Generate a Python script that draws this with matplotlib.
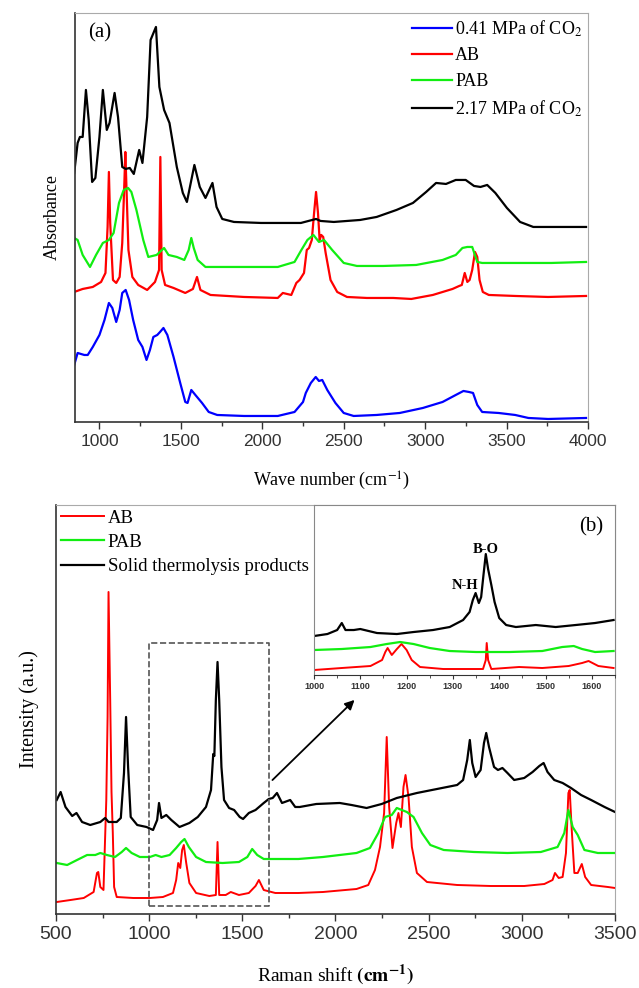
import matplotlib
matplotlib.use("Agg")
import matplotlib.pyplot as plt
from matplotlib.ticker import MultipleLocator

plt.rcParams['font.family'] = ['Liberation Serif', 'DejaVu Serif']
plt.rcParams['mathtext.fontset'] = 'stix'

# ---- (a) FTIR, absorbance (stacked, arbitrary units) ----
ir_low_x = [845, 866, 907, 928, 959, 1000, 1031, 1058, 1079, 1103, 1124, 1140, 1161, 1182, 1207,
            1238, 1264, 1289, 1310, 1331, 1355, 1372, 1393, 1417, 1455, 1496, 1527, 1541, 1564,
            1589, 1630, 1671, 1723, 1888, 2095, 2198, 2250, 2267, 2298, 2328, 2348, 2368, 2399,
            2449, 2500, 2561, 2702, 2844, 2986, 3107, 3188, 3235, 3269, 3294, 3320, 3350, 3451,
            3553, 3634, 3755, 3988]
ir_low_y = [57, 69, 67, 67, 75, 87, 102, 119, 114, 100, 112, 129, 132, 122, 102,
            82, 75, 62, 72, 85, 87, 90, 94, 87, 65, 39, 20, 19, 32,
            27, 19, 10, 7, 6, 6, 10, 20, 29, 39, 45, 41, 42, 32,
            19, 9, 6, 7, 9, 14, 20, 27, 31, 30, 29, 17, 10, 9,
            7, 4, 3, 4]

ir_ab_x = [845, 897, 959, 1010, 1037, 1050, 1058, 1066, 1083, 1103, 1124, 1140, 1153, 1159, 1165,
           1178, 1202, 1238, 1293, 1341, 1366, 1374, 1382, 1403, 1455, 1527, 1574, 1599, 1620,
           1682, 1888, 2095, 2126, 2178, 2209, 2229, 2256, 2273, 2287, 2304, 2318, 2330, 2342,
           2352, 2362, 2374, 2389, 2419, 2460, 2520, 2642, 2804, 2915, 3047, 3168, 3209, 3225,
           3243, 3259, 3273, 3289, 3306, 3320, 3334, 3354, 3391, 3553, 3755, 3988]
ir_ab_y = [130, 133, 135, 140, 149, 195, 250, 199, 142, 139, 145, 179, 239, 270, 239,
           172, 145, 137, 132, 140, 152, 265, 152, 137, 134, 129, 133, 145, 132,
           127, 125, 124, 129, 127, 139, 142, 149, 172, 174, 182, 209, 230, 209,
           182, 187, 185, 169, 142, 130, 125, 124, 124, 123, 127, 133, 136, 137,
           149, 140, 142, 152, 170, 165, 142, 130, 127, 126, 125, 126]

ir_pab_x = [845, 866, 897, 942, 979, 1021, 1058, 1087, 1120, 1149, 1176, 1196, 1227, 1269, 1300,
            1351, 1397, 1424, 1475, 1521, 1548, 1564, 1579, 1603, 1651, 1785, 2095, 2198, 2240,
            2277, 2314, 2348, 2379, 2429, 2500, 2581, 2743, 2945, 3107, 3188, 3229, 3259, 3289,
            3320, 3350, 3553, 3775, 3988]
ir_pab_y = [184, 182, 167, 155, 167, 179, 182, 189, 219, 232, 234, 230, 212, 182, 165,
            167, 174, 167, 165, 162, 172, 184, 174, 162, 155, 155, 155, 160, 172,
            182, 187, 180, 182, 172, 159, 156, 156, 157, 162, 167, 174, 175, 175,
            160, 159, 159, 159, 160]

ir_high_x = [845, 866, 880, 897, 917, 934, 955, 975, 1000, 1021, 1045, 1062, 1093, 1114, 1140,
             1161, 1186, 1211, 1244, 1264, 1293, 1314, 1347, 1368, 1397, 1430, 1475, 1512, 1537,
             1583, 1616, 1651, 1694, 1719, 1754, 1826, 1992, 2237, 2330, 2358, 2439, 2601, 2702,
             2824, 2925, 3006, 3067, 3128, 3188, 3249, 3300, 3340, 3381, 3431, 3502, 3583, 3664,
             3755, 3856, 3988]
ir_high_y = [249, 279, 285, 285, 332, 302, 240, 244, 285, 332, 292, 299, 329, 305, 255,
             253, 254, 248, 272, 259, 305, 382, 395, 335, 312, 299, 255, 229, 220,
             257, 235, 224, 239, 215, 203, 200, 199, 199, 203, 201, 200, 202, 205,
             212, 219, 230, 239, 238, 242, 242, 236, 235, 237, 229, 214, 200, 195,
             195, 195, 195]

# ---- (b) Raman, intensity (stacked, arbitrary units) ----
ra_ab_x = [504, 578, 649, 702, 720, 727, 738, 755, 770, 777, 782, 791, 798, 805, 812,
           826, 915, 1004, 1074, 1128, 1145, 1156, 1167, 1177, 1186, 1199, 1216, 1252, 1323,
           1358, 1367, 1376, 1411, 1438, 1482, 1535, 1571, 1589, 1615, 1677, 1801, 1933, 2113,
           2176, 2212, 2239, 2261, 2275, 2288, 2306, 2326, 2338, 2351, 2365, 2376, 2392, 2410,
           2437, 2491, 2653, 2833, 3013, 3121, 3165, 3178, 3198, 3219, 3237, 3250, 3257, 3268,
           3282, 3300, 3322, 3340, 3372, 3462, 3500]
ra_ab_y = [12, 14, 16, 22, 41, 42, 27, 24, 114, 197, 322, 214, 122, 81, 27,
           17, 16, 16, 17, 21, 34, 51, 46, 64, 69, 51, 31, 21, 18,
           19, 72, 19, 19, 22, 19, 21, 28, 34, 24, 21, 21, 22, 25,
           29, 44, 67, 101, 177, 107, 66, 91, 101, 87, 127, 139, 117, 67,
           41, 32, 29, 28, 28, 30, 34, 41, 36, 37, 61, 121, 124, 84,
           41, 41, 50, 37, 29, 27, 26]

ra_pab_x = [504, 560, 613, 667, 711, 738, 773, 817, 853, 876, 906, 950, 1004, 1035, 1066,
            1110, 1145, 1172, 1190, 1213, 1252, 1305, 1394, 1482, 1527, 1553, 1580, 1615, 1713,
            1801, 1933, 2113, 2185, 2230, 2266, 2302, 2329, 2356, 2383, 2419, 2464, 2509, 2581,
            2743, 2923, 3102, 3192, 3228, 3250, 3273, 3300, 3336, 3408, 3500]
ra_pab_y = [51, 49, 54, 59, 59, 61, 59, 57, 62, 66, 61, 57, 57, 59, 57,
            59, 66, 72, 75, 67, 57, 52, 51, 52, 57, 65, 59, 55, 55,
            55, 57, 61, 66, 81, 97, 99, 106, 104, 102, 97, 81, 69, 64,
            62, 61, 62, 67, 81, 104, 87, 79, 64, 61, 61]

ra_solid_x = [504, 525, 551, 587, 610, 640, 684, 738, 764, 782, 826, 848, 865, 876, 887,
              901, 936, 986, 1021, 1043, 1053, 1066, 1092, 1119, 1163, 1216, 1261, 1305, 1332,
              1344, 1350, 1358, 1367, 1376, 1388, 1402, 1429, 1456, 1486, 1504, 1535, 1571, 1615,
              1642, 1663, 1686, 1713, 1757, 1784, 1808, 1897, 2023, 2086, 2167, 2248, 2329, 2437,
              2545, 2653, 2685, 2707, 2721, 2734, 2752, 2779, 2797, 2809, 2824, 2851, 2872, 2896,
              2923, 2959, 3013, 3058, 3094, 3117, 3138, 3174, 3219, 3264, 3318, 3372, 3444, 3500]
ra_solid_y = [114, 122, 107, 98, 101, 92, 89, 92, 96, 92, 92, 96, 141, 197, 147,
              97, 89, 87, 84, 94, 111, 96, 99, 94, 87, 91, 97, 107, 124,
              160, 158, 214, 252, 214, 147, 114, 106, 104, 97, 95, 101, 104, 111,
              115, 116, 121, 111, 114, 107, 107, 110, 111, 109, 106, 110, 116, 121,
              125, 129, 134, 154, 174, 151, 137, 144, 171, 181, 167, 147, 144, 146,
              141, 134, 136, 142, 148, 151, 142, 134, 131, 126, 119, 114, 107, 102]

# zoomed 1000-1650 cm-1 region
zoom_solid_x = [1000, 1029, 1050, 1060, 1068, 1086, 1100, 1136, 1179, 1215, 1257, 1293, 1322, 1336,
                1343, 1349, 1356, 1361, 1366, 1371, 1376, 1383, 1390, 1400, 1415, 1436, 1479, 1522,
                1565, 1607, 1647]
zoom_solid_y = [39, 41, 45, 52, 45, 45, 46, 42, 41, 43, 45, 48, 55, 63,
                75, 82, 72, 78, 100, 121, 106, 90, 73, 57, 50, 48, 50, 48,
                50, 52, 55]
zoom_pab_x = [1000, 1060, 1122, 1157, 1186, 1215, 1250, 1293, 1350, 1422, 1493, 1536, 1561, 1579,
              1607, 1647]
zoom_pab_y = [25, 26, 28, 31, 33, 31, 27, 24, 23, 23, 24, 28, 29, 26, 23, 24]
zoom_ab_x = [1000, 1060, 1122, 1147, 1154, 1159, 1168, 1179, 1189, 1200, 1211, 1229, 1279, 1365,
             1371, 1373, 1376, 1383, 1443, 1493, 1550, 1579, 1593, 1614, 1647]
zoom_ab_y = [5, 7, 9, 15, 23, 27, 20, 26, 31, 25, 15, 8, 6, 6,
             15, 32, 15, 6, 8, 7, 9, 12, 14, 9, 7]

BLUE, RED, GREEN = '#0000ff', '#ff0000', '#11ee11'
TICK_FONT = 'Liberation Sans'


def style_axes(ax, fontsize, major, minor):
    ax.xaxis.set_major_locator(MultipleLocator(major))
    ax.xaxis.set_minor_locator(MultipleLocator(minor))
    ax.set_yticks([])
    ax.tick_params(axis='x', which='major', direction='out', length=5, width=1, colors='#333333')
    ax.tick_params(axis='x', which='minor', direction='out', length=3, width=1, colors='#333333')
    for lab in ax.get_xticklabels():
        lab.set_fontfamily(TICK_FONT)
        lab.set_fontsize(fontsize)
    for side in ('top', 'right'):
        ax.spines[side].set_color('#aaaaaa')
    for side in ('left', 'bottom'):
        ax.spines[side].set_color('#333333')
        ax.spines[side].set_linewidth(1.2)


fig = plt.figure(figsize=(6.39, 9.88), dpi=100)

# (a) infrared spectra
ax1 = fig.add_axes([0.1174, 0.5729, 0.8028, 0.414])
ax1.plot(ir_low_x, ir_low_y, color=BLUE, lw=1.6, label='0.41 MPa of CO$_2$')
ax1.plot(ir_ab_x, ir_ab_y, color=RED, lw=1.6, label='AB')
ax1.plot(ir_pab_x, ir_pab_y, color=GREEN, lw=1.6, label='PAB')
ax1.plot(ir_high_x, ir_high_y, color='black', lw=1.6, label='2.17 MPa of CO$_2$')
ax1.set_xlim(850, 4000)
ax1.set_ylim(0, 409)
style_axes(ax1, 12.5, 500, 250)
ax1.set_xlabel('Wave number (cm$^{-1}$)', fontsize=13, labelpad=15)
ax1.set_ylabel('Absorbance', fontsize=13, labelpad=10)
ax1.text(0.025, 0.975, '(a)', transform=ax1.transAxes, fontsize=15, va='top', ha='left')
ax1.legend(loc='upper right', frameon=False, fontsize=13, handlelength=2.2,
           handletextpad=0.2, labelspacing=0.48, borderaxespad=0.0, borderpad=0.3)

# (b) Raman spectra
ax2 = fig.add_axes([0.0876, 0.0749, 0.8748, 0.414])
ax2.plot(ra_ab_x, ra_ab_y, color=RED, lw=1.4, label='AB')
ax2.plot(ra_pab_x, ra_pab_y, color=GREEN, lw=1.6, label='PAB')
ax2.plot(ra_solid_x, ra_solid_y, color='black', lw=1.6, label='Solid thermolysis products')
ax2.set_xlim(500, 3500)
ax2.set_ylim(0, 409)
style_axes(ax2, 14, 500, 250)
ax2.set_xlabel(r'Raman shift $\mathbf{(cm^{-1})}$', fontsize=14, labelpad=14)
ax2.set_ylabel('Intensity (a.u.)', fontsize=14.5, labelpad=12)
ax2.legend(loc='upper left', frameon=False, fontsize=13.5, handlelength=2.3,
           handletextpad=0.2, labelspacing=0.38, borderaxespad=0.0, borderpad=0.25)

# dashed box around the zoomed region and arrow to the inset
ax2.plot([1000, 1645, 1645, 1000, 1000], [8, 8, 271, 271, 8], ls='--', lw=1.2, color='#555555')
ax2.annotate('', xy=(2113, 216), xytext=(1651, 132),
             arrowprops=dict(arrowstyle='-|>', color='black', lw=1.3, mutation_scale=14))

# inset with the 1000-1650 cm-1 detail
ax3 = fig.add_axes([0.4914, 0.3168, 0.471, 0.172])
ax3.plot(zoom_ab_x, zoom_ab_y, color=RED, lw=1.4)
ax3.plot(zoom_pab_x, zoom_pab_y, color=GREEN, lw=1.6)
ax3.plot(zoom_solid_x, zoom_solid_y, color='black', lw=1.6)
ax3.set_xlim(1000, 1650)
ax3.set_ylim(0, 170)
ax3.xaxis.set_major_locator(MultipleLocator(100))
ax3.xaxis.set_minor_locator(MultipleLocator(50))
ax3.set_yticks([])
ax3.tick_params(axis='x', which='major', direction='out', length=3, colors='#333333', pad=2)
ax3.tick_params(axis='x', which='minor', direction='out', length=2, colors='#333333')
for lab in ax3.get_xticklabels():
    lab.set_fontfamily(TICK_FONT)
    lab.set_fontsize(6.5)
    lab.set_fontweight('bold')
for side in ('top', 'right', 'left'):
    ax3.spines[side].set_color('#888888')
ax3.spines['bottom'].set_color('#333333')
ax3.text(0.96, 0.87, '(b)', transform=ax3.transAxes, fontsize=15, ha='right', va='center')
ax3.text(1370, 119, 'B-O', fontsize=10.5, fontweight='bold', ha='center', va='bottom')
ax3.text(1326, 90, 'N-H', fontsize=10.5, fontweight='bold', ha='center', va='center')

fig.savefig('out.png', dpi=100)
